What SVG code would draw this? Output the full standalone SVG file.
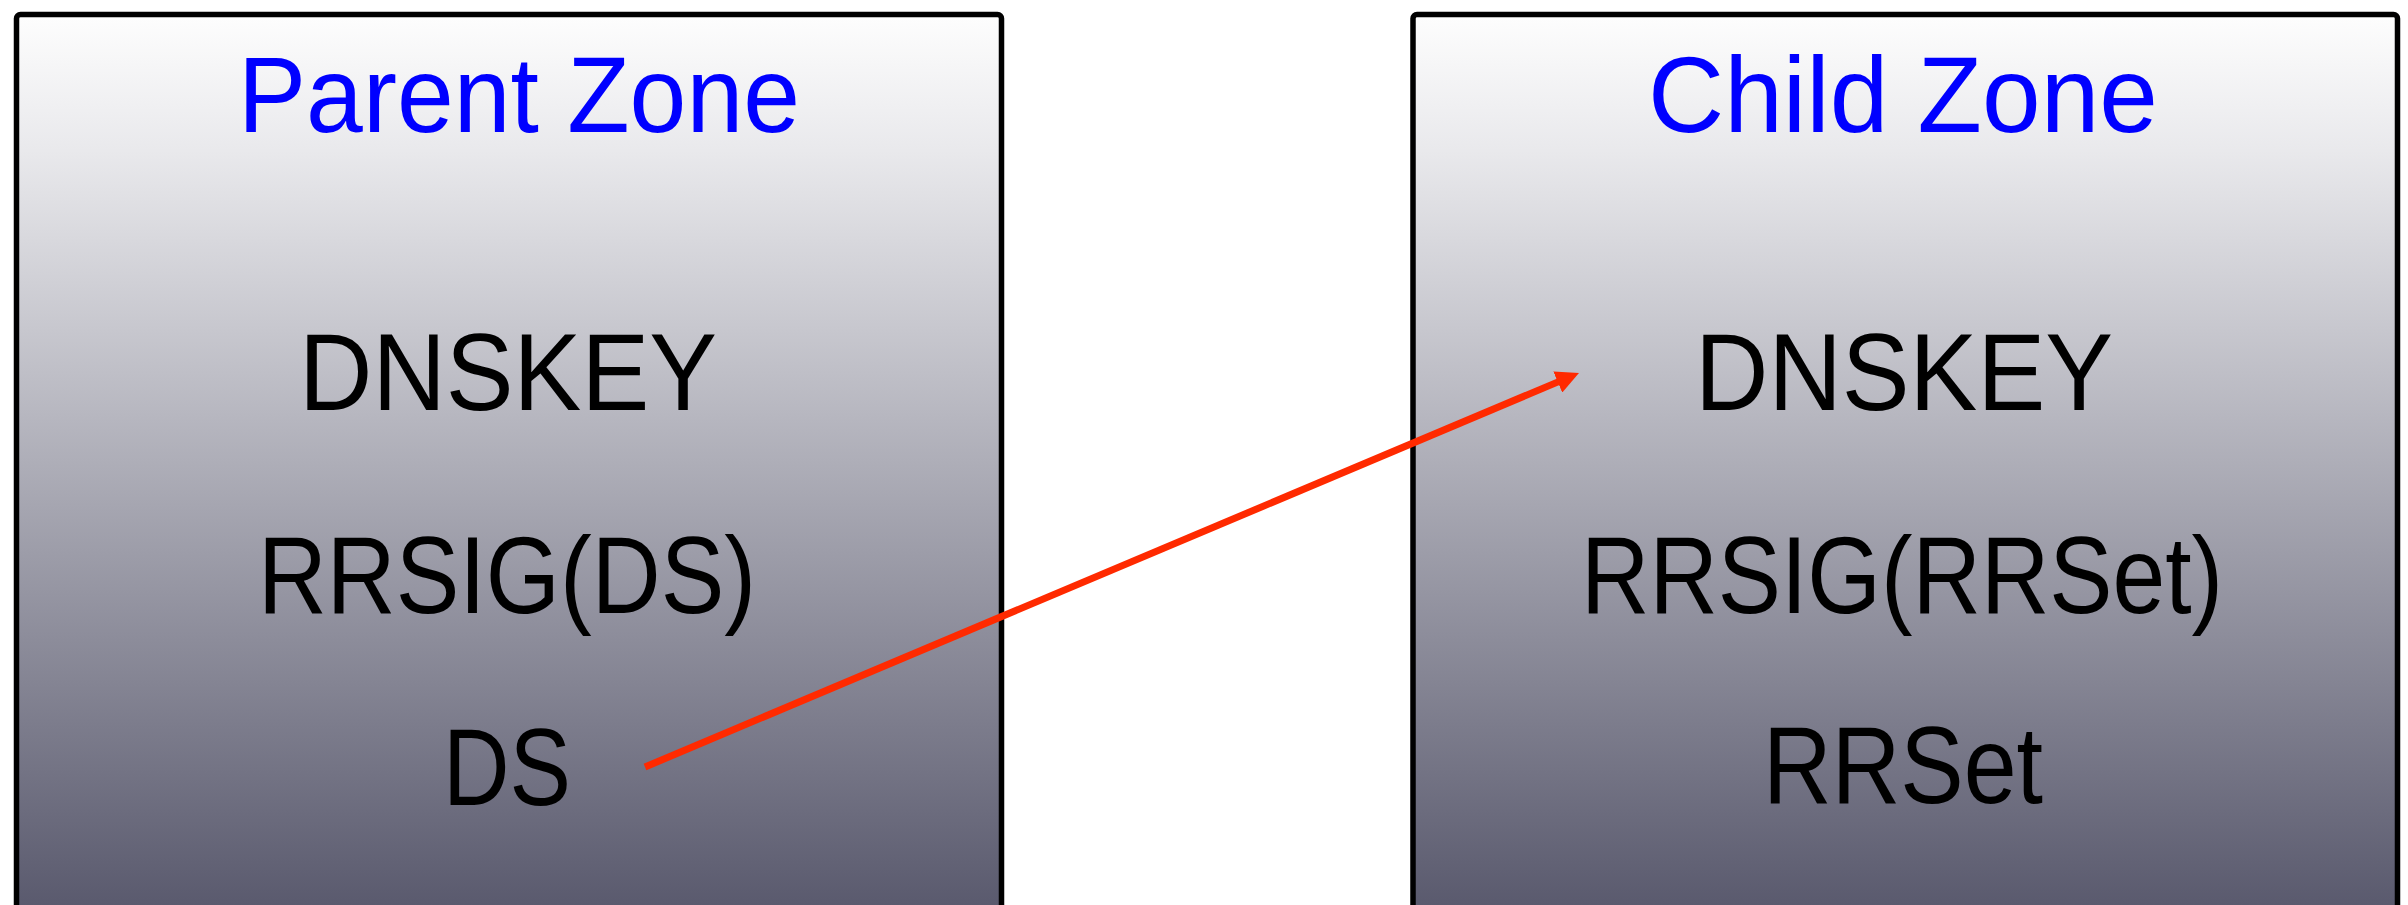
<svg xmlns="http://www.w3.org/2000/svg" width="2408" height="905" viewBox="0 0 2408 905">
  <style>
    .box { stroke: #000; stroke-width: 5.5; fill: url(#zoneGrad); }
    .title { font-family: "Liberation Sans", Arial, sans-serif; font-size: 107px; fill: #0000ff; text-anchor: middle; }
    .rec { font-family: "Liberation Sans", Arial, sans-serif; font-size: 110px; fill: #000; text-anchor: middle; }
    .conn { stroke: #ff2a00; stroke-width: 7; fill: none; }
  </style>
  <defs>
    <linearGradient id="zoneGrad" gradientUnits="userSpaceOnUse" x1="0" y1="17" x2="0" y2="905">
      <stop offset="0" stop-color="#fdfdfd"/>
      <stop offset="0.15" stop-color="#e9e9ec"/>
      <stop offset="1" stop-color="#5a5a6e"/>
    </linearGradient>
    <marker id="arrow" markerUnits="userSpaceOnUse" viewBox="0 0 23 23" markerWidth="23" markerHeight="23" refX="1" refY="11.5" orient="auto">
      <path d="M0,0 L23,11.5 L0,23 Z" fill="#ff2a00"/>
    </marker>
  </defs>
  <rect width="2408" height="905" fill="#ffffff"/>
  <g id="parent-zone">
    <rect class="box" x="16.5" y="14.5" width="985" height="930" rx="4"/>
    <text class="title" x="519" y="132" textLength="562" lengthAdjust="spacingAndGlyphs">Parent Zone</text>
    <text class="rec" x="508" y="410" textLength="418" lengthAdjust="spacingAndGlyphs">DNSKEY</text>
    <text class="rec" x="507" y="613" textLength="498" lengthAdjust="spacingAndGlyphs">RRSIG(DS)</text>
    <text class="rec" x="507" y="805" textLength="128" lengthAdjust="spacingAndGlyphs">DS</text>
  </g>
  <g id="child-zone">
    <rect class="box" x="1413" y="14.5" width="984.5" height="930" rx="4"/>
    <text class="title" x="1903" y="132" textLength="510" lengthAdjust="spacingAndGlyphs">Child Zone</text>
    <text class="rec" x="1904" y="410" textLength="418" lengthAdjust="spacingAndGlyphs">DNSKEY</text>
    <text class="rec" x="1902" y="613" textLength="642" lengthAdjust="spacingAndGlyphs">RRSIG(RRSet)</text>
    <text class="rec" x="1903" y="803" textLength="280" lengthAdjust="spacingAndGlyphs">RRSet</text>
  </g>
  <g id="connectors">
    <line class="conn" x1="645" y1="767" x2="1558.7" y2="381.6" marker-end="url(#arrow)"/>
  </g>
</svg>
